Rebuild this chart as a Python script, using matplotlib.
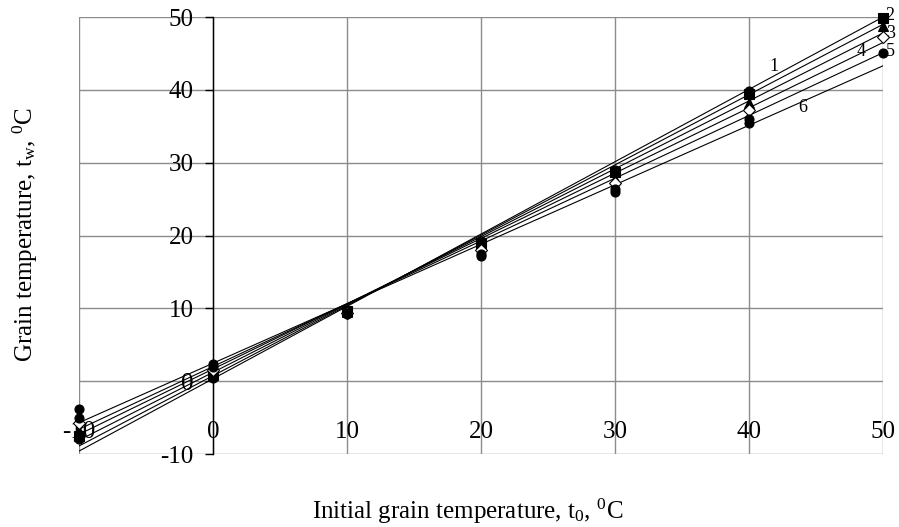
import numpy as np
import matplotlib.pyplot as plt

plt.rcParams['font.family'] = 'Liberation Serif'
plt.rcParams['mathtext.fontset'] = 'custom'
plt.rcParams['mathtext.rm'] = 'Liberation Serif'
plt.rcParams['mathtext.it'] = 'Liberation Serif:italic'

t0 = [-10, 0, 10, 20, 30, 40, 50]
# measured points for the six regimes
s1 = [-8.0, 0.5, 9.4, 19.3, 29.0, 39.8, np.nan]
s2 = [-7.5, 0.8, 9.6, 19.0, 28.7, 39.4, 49.9]
s3 = [-6.8, 1.2, 9.5, 18.5, 27.8, 38.2, 48.7]
s4 = [-5.8, 1.5, 9.3, 18.0, 27.2, 37.2, 47.3]
s5 = [-5.0, 2.0, 9.2, 17.5, 26.4, 36.0, 45.1]
s6 = [-3.8, 2.4, 9.3, 17.2, 26.0, 35.4, np.nan]
series = [s1, s2, s3, s4, s5, s6]
markers = ['o', 's', '^', 'D', 'o', 'o']
filled = [True, True, True, False, True, True]

# fitted lines: value at t0=-10 and at t0=50
line_x = [-10, 50]
line_left = [-9.6, -8.9, -8.1, -7.3, -6.6, -5.7]
line_right = [50.0, 49.0, 47.8, 46.5, 45.1, 43.3]

# curve numbers
lab_text = ['1', '2', '3', '4', '5', '6']
lab_x = [41.9, 50.2, 50.2, 48.4, 50.2, 44.0]
lab_y = [43.2, 50.2, 47.7, 45.2, 45.2, 37.6]

fig = plt.figure(figsize=(8.99, 5.27), dpi=100)
ax = fig.add_axes([0.0879, 0.1385, 0.8943, 0.8292])

ax.set_xlim(-10, 50)
ax.set_ylim(-10, 50)
ax.set_xticks(np.arange(-10, 51, 10))
ax.set_yticks(np.arange(-10, 51, 10))
ax.grid(True, color='#8c8c8c', lw=1.0)
ax.set_axisbelow(True)
for gl in ax.get_xgridlines() + ax.get_ygridlines():
    gl.set_clip_on(False)

for k in range(6):
    ax.plot(line_x, [line_left[k], line_right[k]], color='black', lw=0.8, zorder=3)
for k in range(6):
    ax.plot(t0, series[k], ls='none', marker=markers[k], ms=6.5,
            mfc='black' if filled[k] else 'white', mec='black', mew=0.8,
            zorder=4, clip_on=False)

for txt, x, y in zip(lab_text, lab_x, lab_y):
    ax.text(x, y, txt, fontsize=13, ha='left' if x > 50 else 'center', va='center')

for s in ['top', 'right']:
    ax.spines[s].set_visible(False)
ax.spines['left'].set_position(('data', 0))
ax.spines['left'].set_color('black')
ax.spines['left'].set_linewidth(1.0)
ax.spines['bottom'].set_position(('data', 0))
ax.spines['bottom'].set_visible(False)

ax.tick_params(axis='y', length=6, width=1.0, direction='out', pad=8, labelsize=18)
ax.tick_params(axis='x', length=0, pad=29, labelsize=18)
ax.set_xticklabels([str(v) for v in range(-10, 51, 10)])
ax.set_yticklabels([str(v) for v in range(-10, 51, 10)])

fig.text(0.52, 0.03, r'Initial grain temperature, t$_\mathrm{0}$, $^\mathrm{0}$C',
         ha='center', va='center', fontsize=18)
fig.text(0.028, 0.555, r'Grain temperature, t$_\mathrm{w}$, $^\mathrm{0}$C',
         ha='center', va='center', rotation=90, fontsize=18)

fig.savefig('out.png', dpi=100)
